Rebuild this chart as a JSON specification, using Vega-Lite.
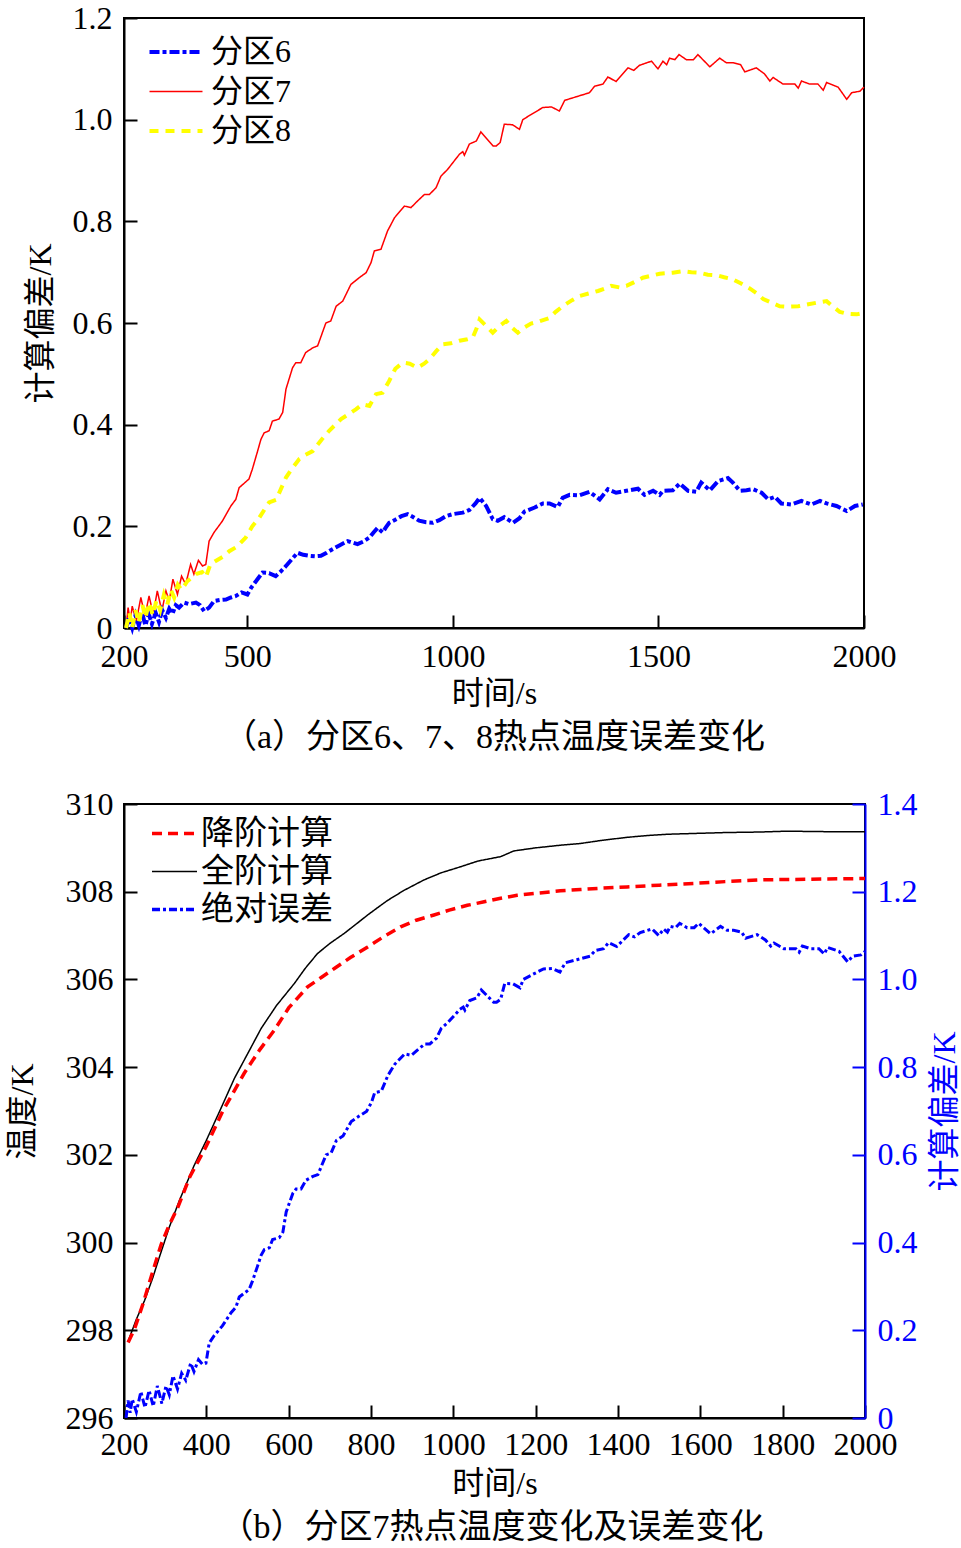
{
  "$schema": "https://vega.github.io/schema/vega-lite/v6.json",
  "background": "white",
  "padding": {"left": 5, "top": 1, "right": 0, "bottom": 0},
  "spacing": 31,
  "config": {
    "font": "Liberation Serif, Noto Sans CJK SC",
    "view": {"stroke": "black", "strokeWidth": 2},
    "axis": {
      "grid": false,
      "domainColor": "black",
      "domainWidth": 2,
      "tickColor": "black",
      "tickWidth": 2,
      "tickSize": -13,
      "labelFont": "Liberation Serif, Noto Sans CJK SC",
      "labelFontSize": 32,
      "labelColor": "black",
      "titleFont": "Liberation Serif, Noto Sans CJK SC",
      "titleFontSize": 32,
      "titleFontWeight": "normal",
      "titleColor": "black",
      "labelFlush": false,
      "labelOverlap": false,
      "labelBound": false
    },
    "legend": {
      "labelFont": "Liberation Serif, Noto Sans CJK SC",
      "labelFontSize": 32,
      "labelColor": "black",
      "padding": 0
    },
    "title": {
      "font": "Liberation Serif, Noto Sans CJK SC",
      "fontSize": 34,
      "fontWeight": "normal",
      "color": "black"
    }
  },
  "datasets": {
    "zoneA": [
      {"t":205,"zone":"分区7","v":0.0},{"t":210,"zone":"分区7","v":0.04},{"t":215,"zone":"分区7","v":0.012},{"t":220,"zone":"分区7","v":0.043},{"t":230,"zone":"分区7","v":0.014},{"t":241,"zone":"分区7","v":0.06},{"t":251,"zone":"分区7","v":0.024},{"t":261,"zone":"分区7","v":0.063},{"t":271,"zone":"分区7","v":0.027},{"t":281,"zone":"分区7","v":0.073},{"t":292,"zone":"分区7","v":0.033},{"t":302,"zone":"分区7","v":0.073},{"t":310,"zone":"分区7","v":0.053},{"t":319,"zone":"分区7","v":0.096},{"t":330,"zone":"分区7","v":0.066},{"t":340,"zone":"分区7","v":0.102},{"t":350,"zone":"分区7","v":0.086},{"t":362,"zone":"分区7","v":0.125},{"t":370,"zone":"分区7","v":0.106},{"t":381,"zone":"分区7","v":0.133},{"t":391,"zone":"分区7","v":0.122},{"t":399,"zone":"分区7","v":0.125},{"t":407,"zone":"分区7","v":0.171},{"t":419,"zone":"分区7","v":0.188},{"t":439,"zone":"分区7","v":0.21},{"t":460,"zone":"分区7","v":0.24},{"t":472,"zone":"分区7","v":0.253},{"t":480,"zone":"分区7","v":0.276},{"t":504,"zone":"分区7","v":0.293},{"t":512,"zone":"分区7","v":0.312},{"t":525,"zone":"分区7","v":0.348},{"t":533,"zone":"分区7","v":0.371},{"t":541,"zone":"分区7","v":0.384},{"t":553,"zone":"分区7","v":0.388},{"t":561,"zone":"分区7","v":0.407},{"t":577,"zone":"分区7","v":0.411},{"t":586,"zone":"分区7","v":0.424},{"t":594,"zone":"分区7","v":0.47},{"t":610,"zone":"分区7","v":0.512},{"t":618,"zone":"分区7","v":0.522},{"t":630,"zone":"分区7","v":0.522},{"t":642,"zone":"分区7","v":0.542},{"t":659,"zone":"分区7","v":0.551},{"t":671,"zone":"分区7","v":0.555},{"t":691,"zone":"分区7","v":0.6},{"t":703,"zone":"分区7","v":0.604},{"t":716,"zone":"分区7","v":0.633},{"t":732,"zone":"分区7","v":0.643},{"t":752,"zone":"分区7","v":0.676},{"t":772,"zone":"分区7","v":0.689},{"t":789,"zone":"分区7","v":0.699},{"t":801,"zone":"分区7","v":0.719},{"t":809,"zone":"分区7","v":0.742},{"t":825,"zone":"分区7","v":0.745},{"t":841,"zone":"分区7","v":0.781},{"t":858,"zone":"分区7","v":0.807},{"t":882,"zone":"分区7","v":0.83},{"t":898,"zone":"分区7","v":0.827},{"t":914,"zone":"分区7","v":0.84},{"t":931,"zone":"分区7","v":0.853},{"t":943,"zone":"分区7","v":0.853},{"t":959,"zone":"分区7","v":0.866},{"t":971,"zone":"分区7","v":0.889},{"t":987,"zone":"分区7","v":0.902},{"t":1016,"zone":"分区7","v":0.932},{"t":1024,"zone":"分区7","v":0.937},{"t":1028,"zone":"分区7","v":0.93},{"t":1040,"zone":"分区7","v":0.952},{"t":1057,"zone":"分区7","v":0.958},{"t":1065,"zone":"分区7","v":0.971},{"t":1068,"zone":"分区7","v":0.976},{"t":1085,"zone":"分区7","v":0.96},{"t":1098,"zone":"分区7","v":0.948},{"t":1105,"zone":"分区7","v":0.948},{"t":1115,"zone":"分区7","v":0.955},{"t":1125,"zone":"分区7","v":0.991},{"t":1145,"zone":"分区7","v":0.99},{"t":1162,"zone":"分区7","v":0.981},{"t":1170,"zone":"分区7","v":1.0},{"t":1190,"zone":"分区7","v":1.01},{"t":1219,"zone":"分区7","v":1.024},{"t":1240,"zone":"分区7","v":1.025},{"t":1259,"zone":"分区7","v":1.017},{"t":1272,"zone":"分区7","v":1.038},{"t":1300,"zone":"分区7","v":1.045},{"t":1332,"zone":"分区7","v":1.053},{"t":1345,"zone":"分区7","v":1.066},{"t":1365,"zone":"分区7","v":1.07},{"t":1377,"zone":"分区7","v":1.084},{"t":1397,"zone":"分区7","v":1.075},{"t":1426,"zone":"分区7","v":1.102},{"t":1440,"zone":"分区7","v":1.097},{"t":1454,"zone":"分区7","v":1.107},{"t":1483,"zone":"分区7","v":1.115},{"t":1499,"zone":"分区7","v":1.1},{"t":1511,"zone":"分区7","v":1.115},{"t":1520,"zone":"分区7","v":1.108},{"t":1527,"zone":"分区7","v":1.121},{"t":1540,"zone":"分区7","v":1.118},{"t":1550,"zone":"分区7","v":1.128},{"t":1568,"zone":"分区7","v":1.118},{"t":1585,"zone":"分区7","v":1.118},{"t":1596,"zone":"分区7","v":1.128},{"t":1625,"zone":"分区7","v":1.104},{"t":1649,"zone":"分区7","v":1.121},{"t":1665,"zone":"分区7","v":1.112},{"t":1681,"zone":"分区7","v":1.112},{"t":1700,"zone":"分区7","v":1.108},{"t":1710,"zone":"分区7","v":1.094},{"t":1738,"zone":"分区7","v":1.102},{"t":1758,"zone":"分区7","v":1.09},{"t":1771,"zone":"分区7","v":1.076},{"t":1779,"zone":"分区7","v":1.083},{"t":1803,"zone":"分区7","v":1.07},{"t":1832,"zone":"分区7","v":1.07},{"t":1840,"zone":"分区7","v":1.062},{"t":1848,"zone":"分区7","v":1.076},{"t":1868,"zone":"分区7","v":1.07},{"t":1888,"zone":"分区7","v":1.07},{"t":1901,"zone":"分区7","v":1.058},{"t":1909,"zone":"分区7","v":1.073},{"t":1937,"zone":"分区7","v":1.064},{"t":1958,"zone":"分区7","v":1.04},{"t":1970,"zone":"分区7","v":1.053},{"t":1990,"zone":"分区7","v":1.056},{"t":2000,"zone":"分区7","v":1.064},

      {"t":205,"zone":"分区6","v":0.0},{"t":212,"zone":"分区6","v":0.02},{"t":220,"zone":"分区6","v":0.0},{"t":228,"zone":"分区6","v":0.025},{"t":236,"zone":"分区6","v":0.005},{"t":244,"zone":"分区6","v":0.03},{"t":252,"zone":"分区6","v":0.005},{"t":260,"zone":"分区6","v":0.028},{"t":268,"zone":"分区6","v":0.008},{"t":277,"zone":"分区6","v":0.03},{"t":285,"zone":"分区6","v":0.012},{"t":293,"zone":"分区6","v":0.035},{"t":302,"zone":"分区6","v":0.02},{"t":310,"zone":"分区6","v":0.038},{"t":318,"zone":"分区6","v":0.028},{"t":326,"zone":"分区6","v":0.045},{"t":334,"zone":"分区6","v":0.04},{"t":346,"zone":"分区6","v":0.05},{"t":358,"zone":"分区6","v":0.047},{"t":375,"zone":"分区6","v":0.05},{"t":385,"zone":"分区6","v":0.045},{"t":395,"zone":"分区6","v":0.033},{"t":407,"zone":"分区6","v":0.04},{"t":419,"zone":"分区6","v":0.053},{"t":433,"zone":"分区6","v":0.055},{"t":448,"zone":"分区6","v":0.056},{"t":460,"zone":"分区6","v":0.06},{"t":472,"zone":"分区6","v":0.063},{"t":486,"zone":"分区6","v":0.07},{"t":500,"zone":"分区6","v":0.066},{"t":510,"zone":"分区6","v":0.08},{"t":521,"zone":"分区6","v":0.092},{"t":537,"zone":"分区6","v":0.109},{"t":553,"zone":"分区6","v":0.108},{"t":569,"zone":"分区6","v":0.102},{"t":580,"zone":"分区6","v":0.11},{"t":594,"zone":"分区6","v":0.122},{"t":608,"zone":"分区6","v":0.135},{"t":622,"zone":"分区6","v":0.148},{"t":636,"zone":"分区6","v":0.144},{"t":651,"zone":"分区6","v":0.142},{"t":665,"zone":"分区6","v":0.141},{"t":679,"zone":"分区6","v":0.142},{"t":693,"zone":"分区6","v":0.148},{"t":707,"zone":"分区6","v":0.155},{"t":725,"zone":"分区6","v":0.163},{"t":744,"zone":"分区6","v":0.171},{"t":756,"zone":"分区6","v":0.168},{"t":768,"zone":"分区6","v":0.165},{"t":782,"zone":"分区6","v":0.17},{"t":797,"zone":"分区6","v":0.178},{"t":807,"zone":"分区6","v":0.188},{"t":817,"zone":"分区6","v":0.197},{"t":829,"zone":"分区6","v":0.188},{"t":837,"zone":"分区6","v":0.198},{"t":845,"zone":"分区6","v":0.207},{"t":860,"zone":"分区6","v":0.213},{"t":875,"zone":"分区6","v":0.22},{"t":890,"zone":"分区6","v":0.224},{"t":904,"zone":"分区6","v":0.218},{"t":918,"zone":"分区6","v":0.211},{"t":935,"zone":"分区6","v":0.208},{"t":951,"zone":"分区6","v":0.207},{"t":967,"zone":"分区6","v":0.212},{"t":983,"zone":"分区6","v":0.22},{"t":1000,"zone":"分区6","v":0.224},{"t":1024,"zone":"分区6","v":0.227},{"t":1040,"zone":"分区6","v":0.232},{"t":1055,"zone":"分区6","v":0.245},{"t":1065,"zone":"分区6","v":0.256},{"t":1081,"zone":"分区6","v":0.24},{"t":1097,"zone":"分区6","v":0.214},{"t":1109,"zone":"分区6","v":0.211},{"t":1125,"zone":"分区6","v":0.218},{"t":1146,"zone":"分区6","v":0.207},{"t":1162,"zone":"分区6","v":0.216},{"t":1174,"zone":"分区6","v":0.229},{"t":1199,"zone":"分区6","v":0.237},{"t":1219,"zone":"分区6","v":0.245},{"t":1235,"zone":"分区6","v":0.245},{"t":1255,"zone":"分区6","v":0.238},{"t":1267,"zone":"分区6","v":0.256},{"t":1284,"zone":"分区6","v":0.262},{"t":1308,"zone":"分区6","v":0.261},{"t":1332,"zone":"分区6","v":0.268},{"t":1357,"zone":"分区6","v":0.253},{"t":1377,"zone":"分区6","v":0.273},{"t":1397,"zone":"分区6","v":0.266},{"t":1422,"zone":"分区6","v":0.27},{"t":1450,"zone":"分区6","v":0.274},{"t":1466,"zone":"分区6","v":0.262},{"t":1487,"zone":"分区6","v":0.27},{"t":1503,"zone":"分区6","v":0.262},{"t":1511,"zone":"分区6","v":0.27},{"t":1535,"zone":"分区6","v":0.271},{"t":1552,"zone":"分区6","v":0.284},{"t":1572,"zone":"分区6","v":0.27},{"t":1592,"zone":"分区6","v":0.268},{"t":1604,"zone":"分区6","v":0.286},{"t":1625,"zone":"分区6","v":0.271},{"t":1645,"zone":"分区6","v":0.289},{"t":1669,"zone":"分区6","v":0.295},{"t":1681,"zone":"分区6","v":0.286},{"t":1698,"zone":"分区6","v":0.27},{"t":1714,"zone":"分区6","v":0.271},{"t":1730,"zone":"分区6","v":0.273},{"t":1751,"zone":"分区6","v":0.266},{"t":1767,"zone":"分区6","v":0.253},{"t":1783,"zone":"分区6","v":0.258},{"t":1799,"zone":"分区6","v":0.245},{"t":1824,"zone":"分区6","v":0.243},{"t":1848,"zone":"分区6","v":0.25},{"t":1872,"zone":"分区6","v":0.243},{"t":1893,"zone":"分区6","v":0.25},{"t":1909,"zone":"分区6","v":0.245},{"t":1933,"zone":"分区6","v":0.24},{"t":1958,"zone":"分区6","v":0.23},{"t":1978,"zone":"分区6","v":0.24},{"t":1997,"zone":"分区6","v":0.243},

      {"t":205,"zone":"分区8","v":0.0},{"t":213,"zone":"分区8","v":0.03},{"t":220,"zone":"分区8","v":0.0},{"t":228,"zone":"分区8","v":0.035},{"t":236,"zone":"分区8","v":0.01},{"t":245,"zone":"分区8","v":0.045},{"t":252,"zone":"分区8","v":0.02},{"t":261,"zone":"分区8","v":0.05},{"t":270,"zone":"分区8","v":0.025},{"t":279,"zone":"分区8","v":0.055},{"t":288,"zone":"分区8","v":0.035},{"t":297,"zone":"分区8","v":0.065},{"t":305,"zone":"分区8","v":0.045},{"t":314,"zone":"分区8","v":0.075},{"t":322,"zone":"分区8","v":0.06},{"t":331,"zone":"分区8","v":0.085},{"t":340,"zone":"分区8","v":0.075},{"t":354,"zone":"分区8","v":0.092},{"t":375,"zone":"分区8","v":0.106},{"t":390,"zone":"分区8","v":0.11},{"t":399,"zone":"分区8","v":0.1},{"t":410,"zone":"分区8","v":0.125},{"t":423,"zone":"分区8","v":0.132},{"t":440,"zone":"分区8","v":0.14},{"t":456,"zone":"分区8","v":0.151},{"t":475,"zone":"分区8","v":0.16},{"t":496,"zone":"分区8","v":0.178},{"t":512,"zone":"分区8","v":0.2},{"t":529,"zone":"分区8","v":0.217},{"t":553,"zone":"分区8","v":0.247},{"t":570,"zone":"分区8","v":0.252},{"t":594,"zone":"分区8","v":0.296},{"t":610,"zone":"分区8","v":0.315},{"t":626,"zone":"分区8","v":0.332},{"t":640,"zone":"分区8","v":0.34},{"t":659,"zone":"分区8","v":0.348},{"t":680,"zone":"分区8","v":0.37},{"t":699,"zone":"分区8","v":0.388},{"t":728,"zone":"分区8","v":0.411},{"t":745,"zone":"分区8","v":0.42},{"t":764,"zone":"分区8","v":0.43},{"t":780,"zone":"分区8","v":0.44},{"t":797,"zone":"分区8","v":0.437},{"t":813,"zone":"分区8","v":0.46},{"t":829,"zone":"分区8","v":0.463},{"t":845,"zone":"分区8","v":0.486},{"t":860,"zone":"分区8","v":0.51},{"t":878,"zone":"分区8","v":0.522},{"t":895,"zone":"分区8","v":0.52},{"t":914,"zone":"分区8","v":0.512},{"t":930,"zone":"分区8","v":0.52},{"t":943,"zone":"分区8","v":0.529},{"t":960,"zone":"分区8","v":0.545},{"t":975,"zone":"分区8","v":0.558},{"t":995,"zone":"分区8","v":0.56},{"t":1016,"zone":"分区8","v":0.565},{"t":1035,"zone":"分区8","v":0.568},{"t":1048,"zone":"分区8","v":0.571},{"t":1058,"zone":"分区8","v":0.59},{"t":1065,"zone":"分区8","v":0.607},{"t":1080,"zone":"分区8","v":0.595},{"t":1097,"zone":"分区8","v":0.581},{"t":1115,"zone":"分区8","v":0.595},{"t":1130,"zone":"分区8","v":0.604},{"t":1145,"zone":"分区8","v":0.59},{"t":1158,"zone":"分区8","v":0.581},{"t":1175,"zone":"分区8","v":0.592},{"t":1190,"zone":"分区8","v":0.599},{"t":1210,"zone":"分区8","v":0.603},{"t":1235,"zone":"分区8","v":0.61},{"t":1250,"zone":"分区8","v":0.622},{"t":1267,"zone":"分区8","v":0.633},{"t":1290,"zone":"分区8","v":0.645},{"t":1308,"zone":"分区8","v":0.653},{"t":1330,"zone":"分区8","v":0.658},{"t":1353,"zone":"分区8","v":0.663},{"t":1370,"zone":"分区8","v":0.668},{"t":1385,"zone":"分区8","v":0.673},{"t":1405,"zone":"分区8","v":0.67},{"t":1422,"zone":"分区8","v":0.673},{"t":1440,"zone":"分区8","v":0.68},{"t":1462,"zone":"分区8","v":0.689},{"t":1483,"zone":"分区8","v":0.693},{"t":1503,"zone":"分区8","v":0.697},{"t":1520,"zone":"分区8","v":0.698},{"t":1535,"zone":"分区8","v":0.699},{"t":1560,"zone":"分区8","v":0.702},{"t":1580,"zone":"分区8","v":0.7},{"t":1600,"zone":"分区8","v":0.699},{"t":1620,"zone":"分区8","v":0.695},{"t":1641,"zone":"分区8","v":0.694},{"t":1660,"zone":"分区8","v":0.69},{"t":1681,"zone":"分区8","v":0.686},{"t":1700,"zone":"分区8","v":0.678},{"t":1722,"zone":"分区8","v":0.668},{"t":1740,"zone":"分区8","v":0.658},{"t":1755,"zone":"分区8","v":0.647},{"t":1775,"zone":"分区8","v":0.64},{"t":1795,"zone":"分区8","v":0.633},{"t":1815,"zone":"分区8","v":0.632},{"t":1840,"zone":"分区8","v":0.633},{"t":1860,"zone":"分区8","v":0.636},{"t":1885,"zone":"分区8","v":0.64},{"t":1909,"zone":"分区8","v":0.643},{"t":1925,"zone":"分区8","v":0.632},{"t":1941,"zone":"分区8","v":0.622},{"t":1960,"zone":"分区8","v":0.618},{"t":1982,"zone":"分区8","v":0.617},{"t":2000,"zone":"分区8","v":0.62}
    ],
    "tempB": [
      {"t":210,"series":"全阶计算","T":297.75},{"t":230,"series":"全阶计算","T":298.25},{"t":250,"series":"全阶计算","T":298.68},{"t":270,"series":"全阶计算","T":299.2},{"t":286,"series":"全阶计算","T":299.67},{"t":310,"series":"全阶计算","T":300.35},{"t":335,"series":"全阶计算","T":300.97},{"t":370,"series":"全阶计算","T":301.75},{"t":400,"series":"全阶计算","T":302.33},{"t":435,"series":"全阶计算","T":303.05},{"t":468,"series":"全阶计算","T":303.74},{"t":500,"series":"全阶计算","T":304.3},{"t":533,"series":"全阶计算","T":304.88},{"t":570,"series":"全阶计算","T":305.4},{"t":614,"series":"全阶计算","T":305.91},{"t":640,"series":"全阶计算","T":306.25},{"t":670,"series":"全阶计算","T":306.59},{"t":700,"series":"全阶计算","T":306.82},{"t":735,"series":"全阶计算","T":307.05},{"t":765,"series":"全阶计算","T":307.27},{"t":792,"series":"全阶计算","T":307.47},{"t":815,"series":"全阶计算","T":307.63},{"t":840,"series":"全阶计算","T":307.8},{"t":880,"series":"全阶计算","T":308.03},{"t":929,"series":"全阶计算","T":308.27},{"t":970,"series":"全阶计算","T":308.43},{"t":1018,"series":"全阶计算","T":308.57},{"t":1060,"series":"全阶计算","T":308.7},{"t":1115,"series":"全阶计算","T":308.8},{"t":1147,"series":"全阶计算","T":308.93},{"t":1200,"series":"全阶计算","T":309.0},{"t":1260,"series":"全阶计算","T":309.06},{"t":1309,"series":"全阶计算","T":309.1},{"t":1360,"series":"全阶计算","T":309.17},{"t":1422,"series":"全阶计算","T":309.24},{"t":1470,"series":"全阶计算","T":309.28},{"t":1519,"series":"全阶计算","T":309.31},{"t":1590,"series":"全阶计算","T":309.33},{"t":1665,"series":"全阶计算","T":309.35},{"t":1740,"series":"全阶计算","T":309.36},{"t":1810,"series":"全阶计算","T":309.38},{"t":1900,"series":"全阶计算","T":309.37},{"t":2000,"series":"全阶计算","T":309.37},
      {"t":210,"series":"降阶计算","T":297.72},{"t":226,"series":"降阶计算","T":298.04},{"t":246,"series":"降阶计算","T":298.6},{"t":266,"series":"降阶计算","T":299.22},{"t":290,"series":"降阶计算","T":299.95},{"t":310,"series":"降阶计算","T":300.4},{"t":331,"series":"降阶计算","T":300.81},{"t":360,"series":"降阶计算","T":301.5},{"t":400,"series":"降阶计算","T":302.2},{"t":440,"series":"降阶计算","T":303.0},{"t":492,"series":"降阶计算","T":303.86},{"t":530,"series":"降阶计算","T":304.4},{"t":565,"series":"降阶计算","T":304.84},{"t":600,"series":"降阶计算","T":305.35},{"t":646,"series":"降阶计算","T":305.83},{"t":680,"series":"降阶计算","T":306.05},{"t":711,"series":"降阶计算","T":306.25},{"t":750,"series":"降阶计算","T":306.5},{"t":792,"series":"降阶计算","T":306.74},{"t":830,"series":"降阶计算","T":306.97},{"t":872,"series":"降阶计算","T":307.2},{"t":910,"series":"降阶计算","T":307.35},{"t":953,"series":"降阶计算","T":307.47},{"t":990,"series":"降阶计算","T":307.58},{"t":1034,"series":"降阶计算","T":307.69},{"t":1075,"series":"降阶计算","T":307.77},{"t":1115,"series":"降阶计算","T":307.85},{"t":1155,"series":"降阶计算","T":307.92},{"t":1196,"series":"降阶计算","T":307.96},{"t":1260,"series":"降阶计算","T":308.02},{"t":1309,"series":"降阶计算","T":308.05},{"t":1360,"series":"降阶计算","T":308.08},{"t":1422,"series":"降阶计算","T":308.11},{"t":1500,"series":"降阶计算","T":308.15},{"t":1584,"series":"降阶计算","T":308.19},{"t":1660,"series":"降阶计算","T":308.23},{"t":1745,"series":"降阶计算","T":308.27},{"t":1820,"series":"降阶计算","T":308.28},{"t":1907,"series":"降阶计算","T":308.29},{"t":2000,"series":"降阶计算","T":308.3}
    ]
  },
  "resolve": {
    "scale": {"color": "independent", "strokeDash": "independent"},
    "legend": {"color": "independent", "strokeDash": "independent"}
  },
  "vconcat": [
    {
      "width": 740,
      "height": 610,
      "title": {"text": "（a）分区6、7、8热点温度误差变化", "orient": "bottom", "anchor": "middle", "frame": "group", "baseline": "top", "offset": 12, "dx": 0},
      "data": {"name": "zoneA"},
      "mark": {"type": "line"},
      "encoding": {
        "x": {"field": "t", "type": "quantitative", "scale": {"domain": [200, 2000], "nice": false, "zero": false},
              "axis": {"values": [200, 500, 1000, 1500, 2000], "format": "d", "title": "时间/s", "labelPadding": 26, "titlePadding": 6}},
        "y": {"field": "v", "type": "quantitative", "scale": {"domain": [0, 1.2], "nice": false},
              "axis": {"values": [0, 0.2, 0.4, 0.6, 0.8, 1.0, 1.2], "labelExpr": "datum.value == 0 ? '0' : format(datum.value, '.1f')", "title": "计算偏差/K", "labelPadding": 25, "titlePadding": 15}},
        "color": {"field": "zone", "type": "nominal",
                  "scale": {"domain": ["分区6", "分区7", "分区8"], "range": ["#0000ff", "#ff0000", "#ffff00"]},
                  "legend": {"title": null, "orient": "none", "legendX": 36, "legendY": 18, "symbolType": "M-2,0H2", "symbolSize": 702, "labelOffset": 19, "rowPadding": 7.5, "labelFontSize": 32,
                             "encode": {"symbols": {"update": {"strokeWidth": {"signal": "datum.value === '分区7' ? 1.5 : 4"}}}}}},
        "strokeDash": {"field": "zone", "type": "nominal",
                       "scale": {"domain": ["分区6", "分区7", "分区8"], "range": [[10, 3, 4, 3], [1, 0], [9, 7]]}},
        "strokeWidth": {"condition": {"test": "datum.zone === '分区7'", "value": 1.5}, "value": 4}
      }
    },
    {
      "width": 741,
      "height": 614,
      "title": {"text": "（b）分区7热点温度变化及误差变化", "orient": "bottom", "anchor": "middle", "frame": "group", "baseline": "top", "offset": 12, "dx": -3},
      "layer": [
        {
          "data": {"name": "tempB"},
          "mark": {"type": "line"},
          "encoding": {
            "x": {"field": "t", "type": "quantitative", "scale": {"domain": [200, 2000], "nice": false, "zero": false},
                  "axis": {"values": [200, 400, 600, 800, 1000, 1200, 1400, 1600, 1800, 2000], "format": "d", "title": "时间/s", "labelPadding": 24, "titlePadding": 8}},
            "y": {"field": "T", "type": "quantitative", "scale": {"domain": [296, 310], "nice": false, "zero": false},
                  "axis": {"values": [296, 298, 300, 302, 304, 306, 308, 310], "title": "温度/K", "labelPadding": 24, "titlePadding": 26}},
            "color": {"field": "series", "type": "nominal",
                      "scale": {"domain": ["降阶计算", "全阶计算", "绝对误差"], "range": ["#ff0000", "#000000", "#0000ff"]},
                      "legend": {"title": null, "orient": "none", "legendX": 34, "legendY": 13, "symbolType": "M-2,0H2", "symbolSize": 506, "labelOffset": 10, "rowPadding": 4, "labelFontSize": 33,
                                 "encode": {"symbols": {"update": {"strokeWidth": {"signal": "datum.value === '全阶计算' ? 1.5 : 3.5"}}}}}},
            "strokeDash": {"field": "series", "type": "nominal",
                           "scale": {"domain": ["降阶计算", "全阶计算", "绝对误差"], "range": [[10, 6], [1, 0], [8, 3, 3, 3]]}},
            "strokeWidth": {"condition": {"test": "datum.series === '全阶计算'", "value": 1.5}, "value": 3.5}
          }
        },
        {
          "data": {"name": "zoneA"},
          "transform": [{"filter": "datum.zone === '分区7'"}],
          "mark": {"type": "line", "strokeWidth": 3},
          "encoding": {
            "x": {"field": "t", "type": "quantitative"},
            "y": {"field": "v", "type": "quantitative", "scale": {"domain": [0, 1.4], "nice": false},
                  "axis": {"orient": "right", "values": [0, 0.2, 0.4, 0.6, 0.8, 1.0, 1.2, 1.4], "labelExpr": "datum.value == 0 ? '0' : format(datum.value, '.1f')",
                           "title": "计算偏差/K", "titleAngle": -90, "titleBaseline": "top", "labelPadding": 25, "titlePadding": 12,
                           "labelColor": "#0000ff", "tickColor": "#0000ff", "domainColor": "#0000ff", "titleColor": "#0000ff"}},
            "color": {"datum": "绝对误差", "type": "nominal"},
            "strokeDash": {"datum": "绝对误差", "type": "nominal"}
          }
        }
      ],
      "resolve": {"scale": {"y": "independent"}}
    }
  ]
}
